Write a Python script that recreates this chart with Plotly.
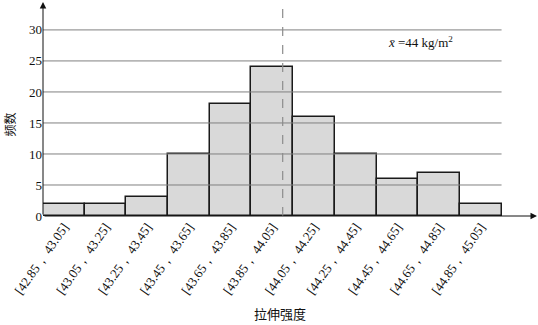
import plotly.graph_objects as go

bin_edges = [42.85, 43.05, 43.25, 43.45, 43.65, 43.85, 44.05, 44.25, 44.45, 44.65, 44.85, 45.05]
counts = [2, 2, 3, 10, 18, 24, 16, 10, 6, 7, 2]
tick_labels = [f"[{bin_edges[i]:.2f}， {bin_edges[i+1]:.2f}]" for i in range(len(counts))]
y_ticks = [0, 5, 10, 15, 20, 25, 30]
mean_value = 44

centers = [(bin_edges[i] + bin_edges[i+1]) / 2 for i in range(len(counts))]
widths = [bin_edges[i+1] - bin_edges[i] for i in range(len(counts))]

serif = "Liberation Serif"

fig = go.Figure()
fig.add_trace(go.Bar(
    x=centers, y=counts, width=widths,
    marker=dict(color="#d9d9d9", line=dict(color="#1a1a1a", width=1.5)),
    hoverinfo="skip",
))

shapes = []
for t in y_ticks[1:]:
    shapes.append(dict(type="line", xref="x", yref="y", x0=bin_edges[0], x1=bin_edges[-1],
                       y0=t, y1=t, line=dict(color="#808080", width=1), layer="above"))
shapes.append(dict(type="line", xref="x", yref="y", x0=mean_value, x1=mean_value,
                   y0=0, y1=34.5, line=dict(color="#8c8c8c", width=1.2, dash="dash"), layer="above"))

annotations = [
    dict(xref="x", yref="y", axref="x", ayref="y", x=bin_edges[0], y=34.5, ax=bin_edges[0], ay=0,
         text="", showarrow=True, arrowhead=2, arrowsize=1.3, arrowwidth=1, arrowcolor="#111", standoff=0),
    dict(xref="x", yref="y", axref="x", ayref="y", x=45.22, y=0, ax=bin_edges[0], ay=0,
         text="", showarrow=True, arrowhead=2, arrowsize=1.3, arrowwidth=1, arrowcolor="#111", standoff=0),
    dict(xref="paper", yref="paper", x=0.765, y=0.815, xanchor="center", yanchor="middle",
         text="<i>x̄</i> =44 kg/m<sup>2</sup>", showarrow=False,
         font=dict(family=serif, size=13, color="#111")),
    dict(xref="paper", yref="paper", x=-0.066, y=0.43, xanchor="center", yanchor="middle",
         text="频数", textangle=-90, showarrow=False,
         font=dict(family="Noto Sans CJK SC", size=12, color="#111")),
    dict(xref="paper", yref="paper", x=0.48, y=-0.455, xanchor="center", yanchor="middle",
         text="拉伸强度", showarrow=False,
         font=dict(family="Noto Sans CJK SC", size=13, color="#111")),
]

fig.update_layout(
    width=538, height=325,
    margin=dict(l=43, r=1, t=2, b=109),
    plot_bgcolor="white", paper_bgcolor="white",
    showlegend=False,
    bargap=0,
    shapes=shapes,
    annotations=annotations,
    font=dict(family=serif, size=13, color="#111"),
)
fig.update_xaxes(
    range=[bin_edges[0], 45.22], tickmode="array", tickvals=centers, ticktext=tick_labels,
    tickangle=-55, showgrid=False, zeroline=False, showline=False, ticks="",
    tickfont=dict(family=serif, size=13, color="#111"),
)
fig.update_yaxes(
    range=[0, 34.5], tickmode="array", tickvals=y_ticks, showgrid=False, zeroline=False,
    showline=False, ticks="", tickfont=dict(family=serif, size=13, color="#111"),
)

fig.write_html("out.html")
